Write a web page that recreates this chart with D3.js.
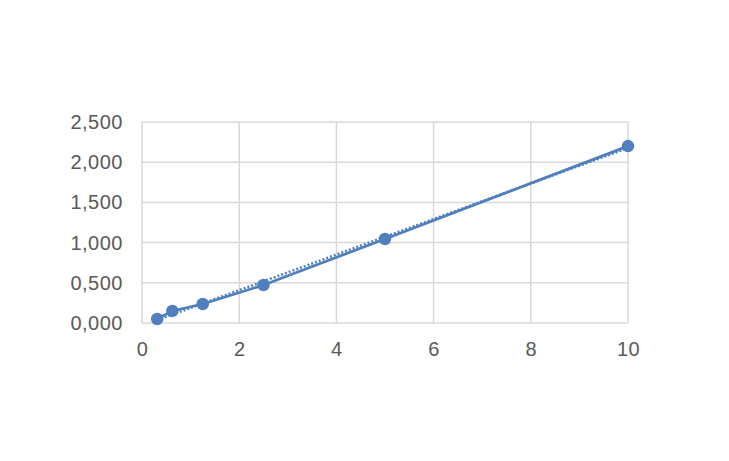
<!DOCTYPE html>
<html>
<head>
<meta charset="utf-8">
<script src="https://cdn.jsdelivr.net/npm/d3@7"></script>
<style>
  html, body { margin: 0; padding: 0; background: #fff; }
  svg { display: block; }
</style>
</head>
<body>
<div id="chart"></div>
<script>
const xValues = [0.3125, 0.625, 1.25, 2.5, 5, 10]
const yValues = [0.05, 0.15, 0.236, 0.473, 1.045, 2.2]
const xTicks = [0, 2, 4, 6, 8, 10]
const yTicks = [0, 0.5, 1, 1.5, 2, 2.5]

const width = 729
const height = 461
const marginLeft = 142
const marginRight = 101
const marginTop = 122
const marginBottom = 138

const svg = d3
  .select('#chart')
  .append('svg')
  .attr('width', width)
  .attr('height', height)

const x = d3.scaleLinear().domain([0, 10]).range([marginLeft, width - marginRight])
const y = d3.scaleLinear().domain([0, 2.5]).range([height - marginBottom, marginTop])

const fmtY = v => d3.format('.3f')(v).replace('.', ',')

// gridlines
const grid = svg.append('g').attr('class', 'grid')
grid
  .selectAll('line.h')
  .data(yTicks)
  .join('line')
  .attr('class', 'h')
  .attr('x1', x(0))
  .attr('x2', x(10))
  .attr('y1', d => y(d))
  .attr('y2', d => y(d))
  .attr('stroke', '#d9d9d9')
  .attr('stroke-width', 1.5)
grid
  .selectAll('line.v')
  .data(xTicks)
  .join('line')
  .attr('class', 'v')
  .attr('x1', d => x(d))
  .attr('x2', d => x(d))
  .attr('y1', y(0))
  .attr('y2', y(2.5))
  .attr('stroke', '#d9d9d9')
  .attr('stroke-width', 1.5)

const styleLabels = g =>
  g
    .selectAll('text')
    .attr('font-family', 'Liberation Sans, Arial, sans-serif')
    .attr('font-size', 20)
    .attr('letter-spacing', 0.5)
    .attr('fill', '#595959')

// axes labels
const yAxis = svg
  .append('g')
  .attr('transform', `translate(${marginLeft - 19},0)`)
  .call(d3.axisLeft(y).tickValues(yTicks).tickFormat(fmtY).tickSize(0).tickPadding(0))
yAxis.select('.domain').remove()
styleLabels(yAxis)

const xAxis = svg
  .append('g')
  .attr('transform', `translate(0,${y(0) + 19})`)
  .call(d3.axisBottom(x).tickValues(xTicks).tickFormat(d3.format('d')).tickSize(0).tickPadding(0))
xAxis.select('.domain').remove()
styleLabels(xAxis)

// linear trendline (least squares over the data)
const mx = d3.mean(xValues)
const my = d3.mean(yValues)
const slope =
  d3.sum(xValues.map((v, i) => (v - mx) * (yValues[i] - my))) /
  d3.sum(xValues.map(v => (v - mx) * (v - mx)))
const intercept = my - slope * mx
const xExt = d3.extent(xValues)

svg
  .append('line')
  .attr('x1', x(xExt[0]))
  .attr('x2', x(xExt[1]))
  .attr('y1', y(intercept + slope * xExt[0]))
  .attr('y2', y(intercept + slope * xExt[1]))
  .attr('stroke', '#4f7fbd')
  .attr('stroke-width', 2.5)
  .attr('stroke-dasharray', '2,2')

// series line + markers
const points = xValues.map((v, i) => [v, yValues[i]])
svg
  .append('path')
  .datum(points)
  .attr('fill', 'none')
  .attr('stroke', '#4f7fbd')
  .attr('stroke-width', 2.75)
  .attr('d', d3.line().x(d => x(d[0])).y(d => y(d[1])))

svg
  .selectAll('circle.pt')
  .data(points)
  .join('circle')
  .attr('class', 'pt')
  .attr('cx', d => x(d[0]))
  .attr('cy', d => y(d[1]))
  .attr('r', 6.25)
  .attr('fill', '#4f7fbd')
</script>
</body>
</html>
